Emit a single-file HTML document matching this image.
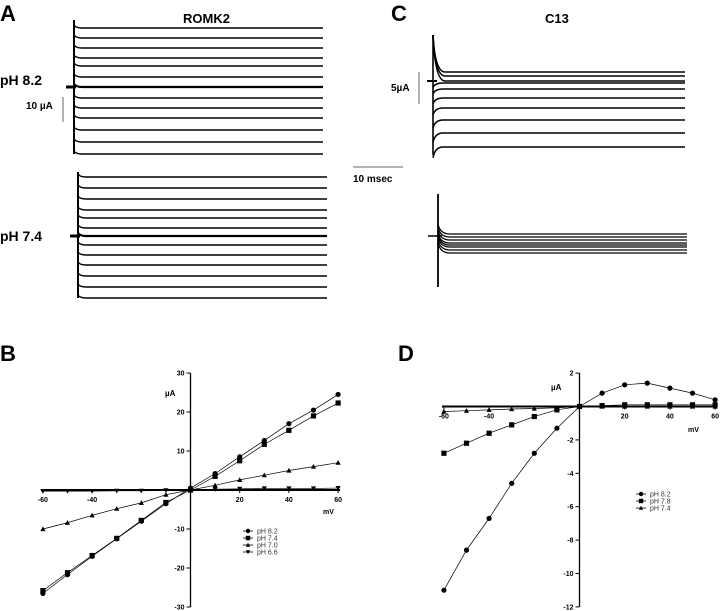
<!DOCTYPE html>
<html><head><meta charset="utf-8"><style>
html,body{margin:0;padding:0;background:#fff;width:720px;height:611px;overflow:hidden}
svg{display:block;font-family:"Liberation Sans",Arial,sans-serif}
</style></head><body>
<svg id="s" width="720" height="611" viewBox="0 0 720 611" xmlns="http://www.w3.org/2000/svg">
<rect width="720" height="611" fill="#fff"/>
<g font-weight="bold" fill="#000">
<text x="0" y="21" font-size="22">A</text>
<text x="183" y="23" font-size="13">ROMK2</text>
<text x="0" y="85" font-size="14">pH 8.2</text>
<text x="0" y="241" font-size="14">pH 7.4</text>
<text x="26" y="109" font-size="10">10 µA</text>
<text x="391" y="21" font-size="22">C</text>
<text x="545" y="23" font-size="13">C13</text>
<text x="391" y="91" font-size="10">5µA</text>
<text x="353" y="182" font-size="10">10 msec</text>
<text x="0" y="361" font-size="22">B</text>
<text x="398" y="361" font-size="22">D</text>
</g>
<line x1="63" y1="97" x2="63" y2="122" stroke="#666" stroke-width="1"/>
<line x1="419" y1="72" x2="419" y2="104" stroke="#666" stroke-width="1"/>
<line x1="353" y1="167" x2="403" y2="167" stroke="#666" stroke-width="1"/>
<g id="tr" stroke="#000" fill="none"></g>
<g id="pl"></g>
</svg>
<script>
var NS="http://www.w3.org/2000/svg";
function el(p,t,a,txt){var e=document.createElementNS(NS,t);for(var k in a)e.setAttribute(k,a[k]);if(txt!==undefined)e.textContent=txt;p.appendChild(e);return e;}
var tr=document.getElementById('tr'),pl=document.getElementById('pl');
// A traces
function group(x0,x1,ys,thick,vTop,vBot,tickY){
 el(tr,'line',{x1:x0,y1:vTop,x2:x0,y2:vBot,'stroke-width':2});
 ys.forEach(function(y){el(tr,'path',{d:'M'+x0+' '+(y-3)+' Q'+(x0+2)+' '+y+' '+(x0+8)+' '+y+' L'+x1+' '+y,'stroke-width':(y==thick?2.2:1.4)});});
 el(tr,'line',{x1:x0-8,y1:tickY,x2:x0+2,y2:tickY,'stroke-width':3});
}
group(74,323,[28,38,48,58,66,77,87,98,108,118,130,142,154],87,20,154,87);
group(78,327,[177,188,199,210,218,228,236,245,255,265,276,287,298],236,172,298,236);
// C traces
(function(){var x0=433,x1=685;var ys=[72,76,81,83,89,98,108,120,133,147];
 ys.forEach(function(y){var d=y<82?'M'+x0+' 35 Q'+(x0+2)+' '+y+' '+(x0+12)+' '+y+' L'+x1+' '+y:'M'+x0+' '+(y+(y-80)*0.1+4)+' Q'+(x0+2)+' '+y+' '+(x0+10)+' '+y+' L'+x1+' '+y;
 el(tr,'path',{d:d,'stroke-width':1.6});});
 el(tr,'line',{x1:x0,y1:35,x2:x0,y2:155,'stroke-width':1.6});
 el(tr,'line',{x1:x0-6,y1:81,x2:x0+4,y2:81,'stroke-width':2});
 var x2=438,x3=687;[234,237,240,243,245,247,250,253].forEach(function(y){el(tr,'path',{d:'M'+x2+' '+(y-10)+' Q'+(x2+2)+' '+y+' '+(x2+12)+' '+y+' L'+x3+' '+y,'stroke-width':1.2});});
 el(tr,'line',{x1:x2,y1:194,x2:x2,y2:287,'stroke-width':1.8});
 el(tr,'line',{x1:x2-10,y1:236,x2:x2+4,y2:236,'stroke-width':1.5});
})();
function marker(g,t,x,y,s){
 if(t=='c')el(g,'circle',{cx:x,cy:y,r:s});
 else if(t=='s')el(g,'rect',{x:x-s,y:y-s,width:2*s,height:2*s});
 else if(t=='u')el(g,'polygon',{points:(x-s)+','+(y+s*0.8)+' '+(x+s)+','+(y+s*0.8)+' '+x+','+(y-s)});
 else el(g,'polygon',{points:(x-s)+','+(y-s*0.8)+' '+(x+s)+','+(y-s*0.8)+' '+x+','+(y+s)});
}
function plot(o){
 var g=el(pl,'g',{});
 var X=function(v){return o.x0+v*o.sx},Y=function(v){return o.y0-v*o.sy};
 el(g,'line',{x1:X(-60)-2,y1:o.y0,x2:X(60)+2,y2:o.y0,stroke:'#000','stroke-width':2});
 el(g,'line',{x1:o.x0,y1:Y(o.ymax),x2:o.x0,y2:Y(o.ymin),stroke:'#000','stroke-width':1.3});
 o.yt.forEach(function(v){el(g,'line',{x1:o.x0-4,y1:Y(v),x2:o.x0,y2:Y(v),stroke:'#000'});
  el(g,'text',{x:o.x0-6,y:Y(v)+2.5,'font-size':7,'font-weight':'bold','text-anchor':'end'},String(v));});
 [-60,-40,20,40,60].forEach(function(v){el(g,'line',{x1:X(v),y1:o.y0,x2:X(v),y2:o.y0+3,stroke:'#000'});
  el(g,'text',{x:X(v),y:o.y0+12,'font-size':7,'font-weight':'bold','text-anchor':'middle'},String(v));});
 el(g,'text',{x:o.mv[0],y:o.mv[1],'font-size':7,'font-weight':'bold'},'mV');
 el(g,'text',{x:o.ua[0],y:o.ua[1],'font-size':8,'font-weight':'bold'},'µA');
 var xs=[-60,-50,-40,-30,-20,-10,0,10,20,30,40,50,60];
 o.series.forEach(function(s,i){
  var pts=xs.map(function(v,j){return X(v)+','+Y(s.d[j])}).join(' ');
  el(g,'polyline',{points:pts,fill:'none',stroke:'#000','stroke-width':0.7});
  xs.forEach(function(v,j){marker(g,s.m,X(v),Y(s.d[j]),2.6);});
  var ly=o.leg[1]+i*o.leg[2];
  el(g,'line',{x1:o.leg[0]-5,y1:ly,x2:o.leg[0]+5,y2:ly,stroke:'#000','stroke-width':0.8});
  marker(g,s.m,o.leg[0],ly,2.2);
  el(g,'text',{x:o.leg[0]+9,y:ly+2.5,'font-size':7,fill:'#333'},s.n);
 });
}
plot({x0:190.5,sx:2.46,y0:490,sy:3.9,ymax:30,ymin:-30,yt:[30,20,10,-10,-20,-30],mv:[323,514],ua:[165,396],leg:[248,531,7],
 series:[
 {m:'c',n:'pH 8.2',d:[-26.5,-21.7,-17,-12.5,-8,-3.5,0.5,4.2,8.5,12.7,17,20.5,24.5]},
 {m:'s',n:'pH 7.4',d:[-25.8,-21.2,-16.8,-12.4,-7.8,-3.2,0,3.5,7.5,11.7,15.3,19,22.3]},
 {m:'u',n:'pH 7.0',d:[-10,-8.4,-6.5,-4.8,-3.3,-1.2,0,1.2,2.6,3.8,5,6,7]},
 {m:'d',n:'pH 6.6',d:[-0.3,-0.3,-0.3,-0.2,-0.2,-0.1,0,0.2,0.3,0.4,0.4,0.4,0.5]}]});
plot({x0:579.5,sx:2.26,y0:406.5,sy:16.7,ymax:2,ymin:-12,yt:[2,-2,-4,-6,-8,-10,-12],mv:[688,432],ua:[551,390],leg:[641,494,7],
 series:[
 {m:'c',n:'pH 8.2',d:[-11,-8.6,-6.7,-4.6,-2.8,-1.3,0,0.8,1.3,1.4,1.1,0.8,0.4]},
 {m:'s',n:'pH 7.8',d:[-2.8,-2.2,-1.6,-1.1,-0.6,-0.2,0,0.05,0.1,0.1,0.1,0.1,0.1]},
 {m:'u',n:'pH 7.4',d:[-0.3,-0.25,-0.2,-0.15,-0.12,-0.08,0,0,0,0,0,0,0]}]});
</script>
</body></html>
